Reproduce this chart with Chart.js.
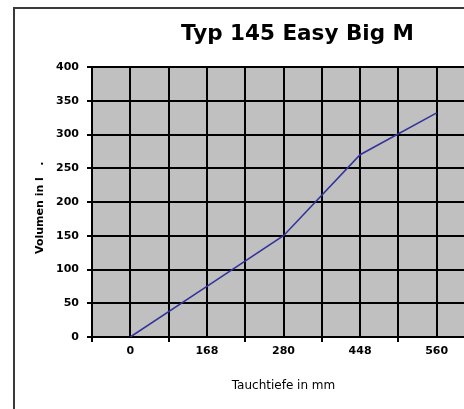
<!DOCTYPE html>
<html>
<head>
<meta charset="utf-8">
<script src="https://cdn.jsdelivr.net/npm/chart.js@4/dist/chart.umd.min.js"></script>
<style>
  html, body { margin: 0; padding: 0; background: #fff; overflow: hidden; }
  #wrap { position: absolute; left: 0; top: 0; width: 601px; height: 420px; }
</style>
</head>
<body>
<div id="wrap"><canvas id="c" width="601" height="420"></canvas></div>
<script>
// ---- data ----
const categories = ['0', '168', '280', '448', '560'];
const volumes = [0, 75, 150, 270, 332];
const yMin = 0;
const yMax = 400;
const yStep = 50;
const chartTitle = 'Typ 145 Easy Big M';
const xTitle = 'Tauchtiefe in mm';
const yTitle = 'Volumen in l   .   ';

const FONT = 'DejaVu Sans';

const frame = {
  id: 'frame',
  beforeDraw(chart) {
    const {ctx, chartArea: a} = chart;
    ctx.save();
    ctx.fillStyle = '#ffffff';
    ctx.fillRect(0, 0, chart.width, chart.height);
    ctx.strokeStyle = '#3a3a3a';
    ctx.lineWidth = 2;
    ctx.strokeRect(14, 8, chart.width - 16, chart.height - 10);
    ctx.fillStyle = '#c0c0c0';
    ctx.fillRect(a.left, a.top, a.right - a.left, a.bottom - a.top);
    ctx.restore();
  }
};

new Chart(document.getElementById('c'), {
  type: 'line',
  data: {
    labels: categories,
    datasets: [{
      data: volumes,
      borderColor: '#333399',
      borderWidth: 1.6,
      pointRadius: 0,
      tension: 0,
      fill: false
    }]
  },
  options: {
    responsive: false,
    animation: false,
    layout: { padding: { left: 14, top: 0, right: 20, bottom: 20 } },
    plugins: {
      legend: { display: false },
      tooltip: { enabled: false },
      title: {
        display: true,
        text: chartTitle,
        color: '#000',
        font: { family: FONT, size: 21.5, weight: 'bold' },
        padding: { top: 21.6, bottom: 19.6 }
      }
    },
    scales: {
      x: {
        type: 'category',
        position: 'bottom',
        offset: true,
        grid: { offset: true, color: '#000', lineWidth: 2, tickLength: 5, drawTicks: true },
        border: { display: true, color: '#000', width: 2 },
        ticks: { color: '#000', font: { family: FONT, size: 11, weight: 'bold' }, padding: 3, maxRotation: 0, autoSkip: false },
        title: { display: true, text: xTitle, color: '#000', font: { family: FONT, size: 12 }, padding: { top: 0, bottom: 7 } },
        afterFit(s) { s.height = 63; }
      },
      xc: {
        type: 'category',
        position: 'bottom',
        offset: true,
        grid: { offset: false, color: '#000', lineWidth: 2, drawTicks: false },
        border: { display: false },
        ticks: { display: false },
        afterFit(s) { s.height = 0; }
      },
      y: {
        type: 'linear',
        position: 'left',
        min: yMin,
        max: yMax,
        ticks: { stepSize: yStep, color: '#000', font: { family: FONT, size: 11, weight: 'bold' }, padding: 8 },
        grid: { color: '#000', lineWidth: 2, tickLength: 5, drawTicks: true },
        border: { display: true, color: '#000', width: 2 },
        title: { display: true, text: yTitle, color: '#000', font: { family: FONT, size: 11, weight: 'bold' }, padding: { top: 20, bottom: 0 } },
        afterFit(s) { s.width = 78; }
      },
      yR: {
        type: 'linear',
        position: 'right',
        min: yMin,
        max: yMax,
        grid: { drawOnChartArea: false, drawTicks: false },
        border: { display: false },
        ticks: { display: false },
        afterFit(s) { s.width = 106; }
      }
    }
  },
  plugins: [frame]
});
</script>
</body>
</html>
